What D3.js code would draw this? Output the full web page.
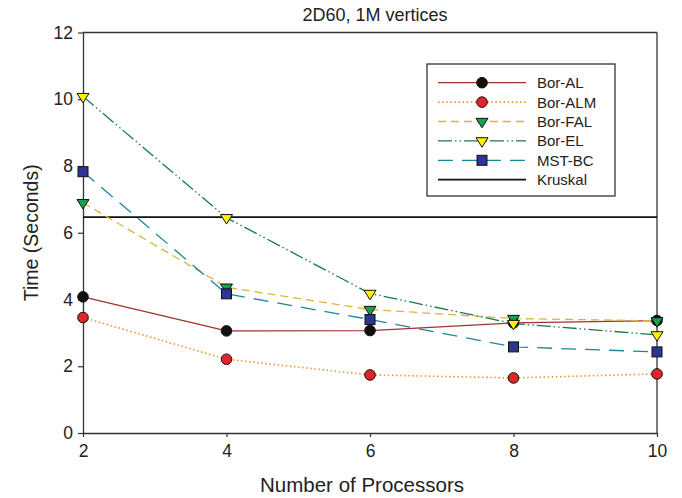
<!DOCTYPE html>
<html>
<head>
<meta charset="utf-8">
<script src="https://cdn.jsdelivr.net/npm/d3@7"></script>
<style>
  html, body { margin: 0; padding: 0; background: #fff; }
  svg { display: block; font-family: "Liberation Sans", Arial, Helvetica, sans-serif; }
</style>
</head>
<body>
<svg id="chart" width="682" height="498"></svg>
<script>
// Run times (seconds) of MST algorithms on the 2D60 graph, 1M vertices
const processors = [2, 4, 6, 8, 10];
const borAL  = [4.08, 3.06, 3.07, 3.30, 3.37];
const borALM = [3.46, 2.21, 1.74, 1.65, 1.77];
const borFAL = [6.90, 4.37, 3.70, 3.43, 3.36];
const borEL  = [10.08, 6.45, 4.18, 3.28, 2.94];
const mstBC  = [7.83, 4.17, 3.40, 2.58, 2.43];
const kruskal = 6.47; // sequential baseline
const xTicks = [2, 4, 6, 8, 10];
const yTicks = [0, 2, 4, 6, 8, 10, 12];

const seriesNames = ["Bor-AL", "Bor-ALM", "Bor-FAL", "Bor-EL", "MST-BC"];
const seriesValues = [borAL, borALM, borFAL, borEL, mstBC];
const lineColors = ["#a3312f", "#f5922f", "#d6b53c", "#177a4b", "#1c8796"];
const lineDashes = [null, "1.5,2.6", "8,5", "14,3,1.5,3,1.5,3", "15,9"];
const markerShapes = ["circle", "circle", "triangle", "triangle", "square"];
const markerFills = ["#111111", "#e5232a", "#18a04a", "#fff200", "#2c3591"];

const svg = d3.select("#chart");
const margin = { left: 83, right: 25, top: 32.5, bottom: 65 };
const W = 682, H = 498;

const x = d3.scaleLinear().domain([2, 10]).range([margin.left, W - margin.right]);
const y = d3.scaleLinear().domain([0, 12]).range([H - margin.bottom, margin.top]);

const axisColor = "#333";

// plot frame: top and right edges
svg.append("line")
  .attr("x1", x(2)).attr("x2", x(10)).attr("y1", y(12)).attr("y2", y(12))
  .attr("stroke", axisColor).attr("stroke-width", 1.3);
svg.append("line")
  .attr("x1", x(10)).attr("x2", x(10)).attr("y1", y(12)).attr("y2", y(0))
  .attr("stroke", axisColor).attr("stroke-width", 1.3);

// axes
const xAxis = svg.append("g")
  .attr("transform", `translate(0,${y(0)})`)
  .call(d3.axisBottom(x).tickValues(xTicks).tickSize(4).tickSizeOuter(0).tickPadding(8));
const yAxis = svg.append("g")
  .attr("transform", `translate(${x(2)},0)`)
  .call(d3.axisLeft(y).tickValues(yTicks).tickSize(5).tickSizeOuter(0).tickPadding(5));

[xAxis, yAxis].forEach(g => {
  g.select(".domain").attr("stroke", axisColor).attr("stroke-width", 1.3);
  g.selectAll(".tick line").attr("stroke", axisColor).attr("stroke-width", 1.2);
  g.selectAll(".tick text")
    .attr("fill", "#222")
    .style("font-size", "17.5px")
    .style("font-family", "'Liberation Sans', Arial, sans-serif");
});

// titles
svg.append("text")
  .attr("x", (x(2) + x(10)) / 2 + 5).attr("y", 21)
  .attr("text-anchor", "middle").attr("fill", "#222")
  .style("font-size", "18px")
  .text("2D60, 1M vertices");

svg.append("text")
  .attr("x", (x(2) + x(10)) / 2 - 8).attr("y", 492)
  .attr("text-anchor", "middle").attr("fill", "#222")
  .style("font-size", "20.5px")
  .text("Number of Processors");

svg.append("text")
  .attr("transform", `translate(38,${(y(0) + y(12)) / 2}) rotate(-90)`)
  .attr("text-anchor", "middle").attr("fill", "#222")
  .style("font-size", "19.5px")
  .text("Time (Seconds)");

// Kruskal baseline
svg.append("line")
  .attr("x1", x(2)).attr("x2", x(10))
  .attr("y1", y(kruskal)).attr("y2", y(kruskal))
  .attr("stroke", "#111").attr("stroke-width", 1.7);

function drawMarker(g, shape, fill, cx, cy) {
  if (shape === "circle") {
    g.append("circle").attr("cx", cx).attr("cy", cy).attr("r", 5.3)
      .attr("fill", fill).attr("stroke", "#111").attr("stroke-width", 1);
  } else if (shape === "square") {
    g.append("rect").attr("x", cx - 5).attr("y", cy - 5).attr("width", 10).attr("height", 10)
      .attr("fill", fill).attr("stroke", "#111").attr("stroke-width", 1);
  } else {
    const w = 6, h = 9.5;
    g.append("path")
      .attr("d", `M${cx - w},${cy - h / 3} L${cx + w},${cy - h / 3} L${cx},${cy + 2 * h / 3} Z`)
      .attr("fill", fill).attr("stroke", "#111").attr("stroke-width", 1).attr("stroke-linejoin", "miter");
  }
}

const line = d3.line().x(d => x(d[0])).y(d => y(d[1]));

// series lines, then markers
seriesValues.forEach((vals, i) => {
  const pts = processors.map((p, j) => [p, vals[j]]);
  svg.append("path")
    .datum(pts)
    .attr("d", line)
    .attr("fill", "none")
    .attr("stroke", lineColors[i])
    .attr("stroke-width", i === 1 ? 1.6 : 1.3)
    .attr("stroke-dasharray", lineDashes[i]);
});
seriesValues.forEach((vals, i) => {
  const g = svg.append("g");
  processors.forEach((p, j) => drawMarker(g, markerShapes[i], markerFills[i], x(p), y(vals[j])));
});

// legend
const lg = svg.append("g");
lg.append("rect")
  .attr("x", 427).attr("y", 64).attr("width", 188).attr("height", 132)
  .attr("fill", "#fff").attr("stroke", axisColor).attr("stroke-width", 1.3);
const legendNames = seriesNames.concat(["Kruskal"]);
legendNames.forEach((name, i) => {
  const ly = 82.7 + i * 19.4;
  const isK = i === 5;
  lg.append("line")
    .attr("x1", 438).attr("x2", 526).attr("y1", ly).attr("y2", ly)
    .attr("stroke", isK ? "#111" : lineColors[i])
    .attr("stroke-width", isK ? 1.7 : (i === 1 ? 1.6 : 1.3))
    .attr("stroke-dasharray", isK ? null : lineDashes[i]);
  if (!isK) drawMarker(lg, markerShapes[i], markerFills[i], 482, ly);
  lg.append("text")
    .attr("x", 537).attr("y", ly).attr("dy", "0.36em")
    .attr("fill", "#222").style("font-size", "15px")
    .text(name);
});
</script>
</body>
</html>
